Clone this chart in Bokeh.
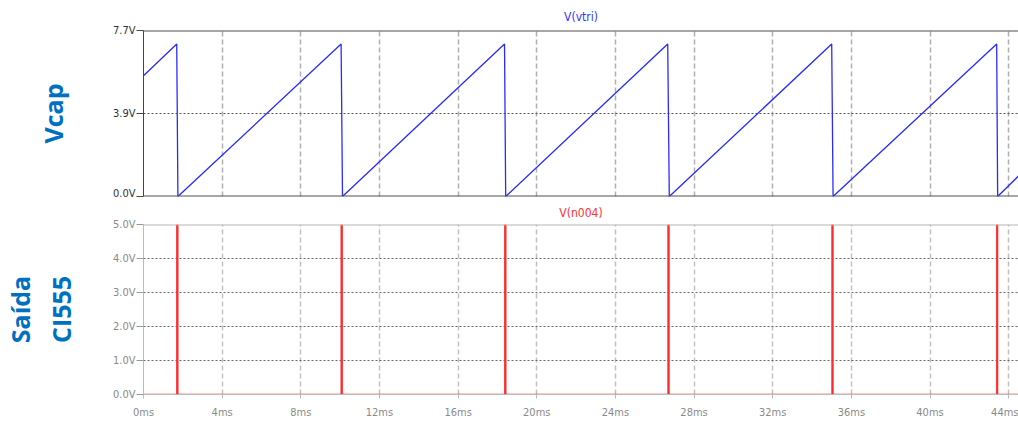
from bokeh.plotting import figure
from bokeh.layouts import column
from bokeh.models import FixedTicker, Span, Range1d
from bokeh.embed import file_html
from bokeh.resources import INLINE

# ---- data ----
vtri_t = [0.0, 1.69, 1.75, 10.05, 10.12, 18.36, 18.42, 26.66, 26.74, 35.00, 35.07, 43.39, 43.44, 44.50]
vtri_v = [5.60, 7.07, 0.00, 7.07, 0.00, 7.07, 0.00, 7.07, 0.00, 7.07, 0.00, 7.07, 0.00, 0.95]

n004_t = [0.0, 1.70, 1.70, 1.74, 1.74, 10.06, 10.06, 10.10, 10.10, 18.38, 18.38, 18.42, 18.42,
          26.68, 26.68, 26.72, 26.72, 35.02, 35.02, 35.06, 35.06, 43.40, 43.40, 43.43, 43.43, 44.50]
n004_v = [0.0, 0.0, 5.0, 5.0, 0.0, 0.0, 5.0, 5.0, 0.0, 0.0, 5.0, 5.0, 0.0,
          0.0, 5.0, 5.0, 0.0, 0.0, 5.0, 5.0, 0.0, 0.0, 5.0, 5.0, 0.0, 0.0]

x_ticks = [0, 4, 8, 12, 16, 20, 24, 28, 32, 36, 40, 44]
x_labels = ["0ms", "4ms", "8ms", "12ms", "16ms", "20ms", "24ms", "28ms", "32ms", "36ms", "40ms", "44ms"]
top_ticks = [0.0, 3.85, 7.7]
top_labels = ["0.0V", "3.9V", "7.7V"]
bot_ticks = [0, 1, 2, 3, 4, 5]
bot_labels = ["0.0V", "1.0V", "2.0V", "3.0V", "4.0V", "5.0V"]

TICK_FONT = "DejaVu Sans Condensed"
LABEL_FONT = "Open Sans"

xr = Range1d(0, 44.5)

# ---- top panel ----
p1 = figure(width=1018, height=199, x_range=xr, y_range=Range1d(0, 7.7),
            output_backend="svg", toolbar_location=None,
            min_border_left=140, min_border_right=0, min_border_top=29, min_border_bottom=3)
p1.outline_line_color = None
p1.xaxis.visible = False
p1.xgrid.ticker = FixedTicker(ticks=x_ticks)
p1.xgrid.grid_line_color = "#b0b0b0"
p1.xgrid.grid_line_dash = "5 3"
p1.xgrid.grid_line_width = 1.5
p1.yaxis.ticker = FixedTicker(ticks=top_ticks)
p1.yaxis.major_label_overrides = {t: l for t, l in zip(top_ticks, top_labels)}
p1.ygrid.ticker = FixedTicker(ticks=top_ticks)
p1.ygrid.grid_line_color = "#555555"
p1.ygrid.grid_line_dash = "2 2"
p1.yaxis.axis_line_color = "#444444"
p1.yaxis.major_tick_line_color = "#444444"
p1.yaxis.major_tick_out = 7
p1.yaxis.major_tick_in = 0
p1.yaxis.minor_tick_line_color = None
p1.yaxis.major_label_standoff = 1
p1.yaxis.major_label_text_font = TICK_FONT
p1.yaxis.major_label_text_font_size = "11px"
p1.yaxis.major_label_text_color = "#333333"
p1.yaxis.axis_label = "Vcap"
p1.yaxis.axis_label_text_font = LABEL_FONT
p1.yaxis.axis_label_text_font_style = "bold"
p1.yaxis.axis_label_text_font_size = "25px"
p1.yaxis.axis_label_text_color = "#0070C0"
p1.yaxis.axis_label_standoff = 40
p1.title.text = "V(vtri)"
p1.title.align = "center"
p1.title.text_font = TICK_FONT
p1.title.text_font_size = "12px"
p1.title.text_font_style = "normal"
p1.title.text_color = "#3535ff"
p1.title.standoff = 14
p1.add_layout(Span(location=7.7, dimension="width", line_color="#505050", line_width=2))
p1.add_layout(Span(location=0.0, dimension="width", line_color="#505050", line_width=2))
p1.line(vtri_t, vtri_v, line_color="#2a2aff", line_width=1.3)

# ---- bottom panel ----
p2 = figure(width=1018, height=222, x_range=xr, y_range=Range1d(0, 5),
            output_backend="svg", toolbar_location=None,
            min_border_left=140, min_border_right=0, min_border_top=25, min_border_bottom=25)
p2.outline_line_color = None
p2.xaxis.ticker = FixedTicker(ticks=x_ticks)
p2.xaxis.major_label_overrides = {t: l for t, l in zip(x_ticks, x_labels)}
p2.xaxis.axis_line_color = "#bbbbbb"
p2.xaxis.major_tick_line_color = "#bbbbbb"
p2.xaxis.major_tick_out = 4
p2.xaxis.major_tick_in = 0
p2.xaxis.minor_tick_line_color = None
p2.xaxis.major_label_standoff = 7
p2.xaxis.major_label_text_font = TICK_FONT
p2.xaxis.major_label_text_font_size = "11px"
p2.xaxis.major_label_text_color = "#8a8a8a"
p2.xgrid.ticker = FixedTicker(ticks=x_ticks)
p2.xgrid.grid_line_color = "#c0c0c0"
p2.xgrid.grid_line_dash = "5 3"
p2.xgrid.grid_line_width = 1.5
p2.yaxis.ticker = FixedTicker(ticks=bot_ticks)
p2.yaxis.major_label_overrides = {t: l for t, l in zip(bot_ticks, bot_labels)}
p2.ygrid.ticker = FixedTicker(ticks=bot_ticks)
p2.ygrid.grid_line_color = "#666666"
p2.ygrid.grid_line_dash = "2 2"
p2.yaxis.axis_line_color = "#bbbbbb"
p2.yaxis.major_tick_line_color = "#999999"
p2.yaxis.major_tick_out = 7
p2.yaxis.major_tick_in = 0
p2.yaxis.minor_tick_line_color = None
p2.yaxis.major_label_standoff = 1
p2.yaxis.major_label_text_font = TICK_FONT
p2.yaxis.major_label_text_font_size = "11px"
p2.yaxis.major_label_text_color = "#8a8a8a"
p2.yaxis.axis_label = "Saída\nCI555"
p2.yaxis.axis_label_text_font = LABEL_FONT
p2.yaxis.axis_label_text_font_style = "bold"
p2.yaxis.axis_label_text_font_size = "25px"
p2.yaxis.axis_label_text_color = "#0070C0"
p2.yaxis.axis_label_standoff = 32
p2.title.text = "V(n004)"
p2.title.align = "center"
p2.title.text_font = TICK_FONT
p2.title.text_font_size = "12px"
p2.title.text_font_style = "normal"
p2.title.text_color = "#ff3030"
p2.title.standoff = 9
p2.add_layout(Span(location=5.0, dimension="width", line_color="#b5b5b5", line_width=2))
p2.line(n004_t, n004_v, line_color="#ff2a2a", line_width=1.6)

layout = column(p1, p2, spacing=0)
open("out.html", "w").write(file_html(layout, INLINE))
